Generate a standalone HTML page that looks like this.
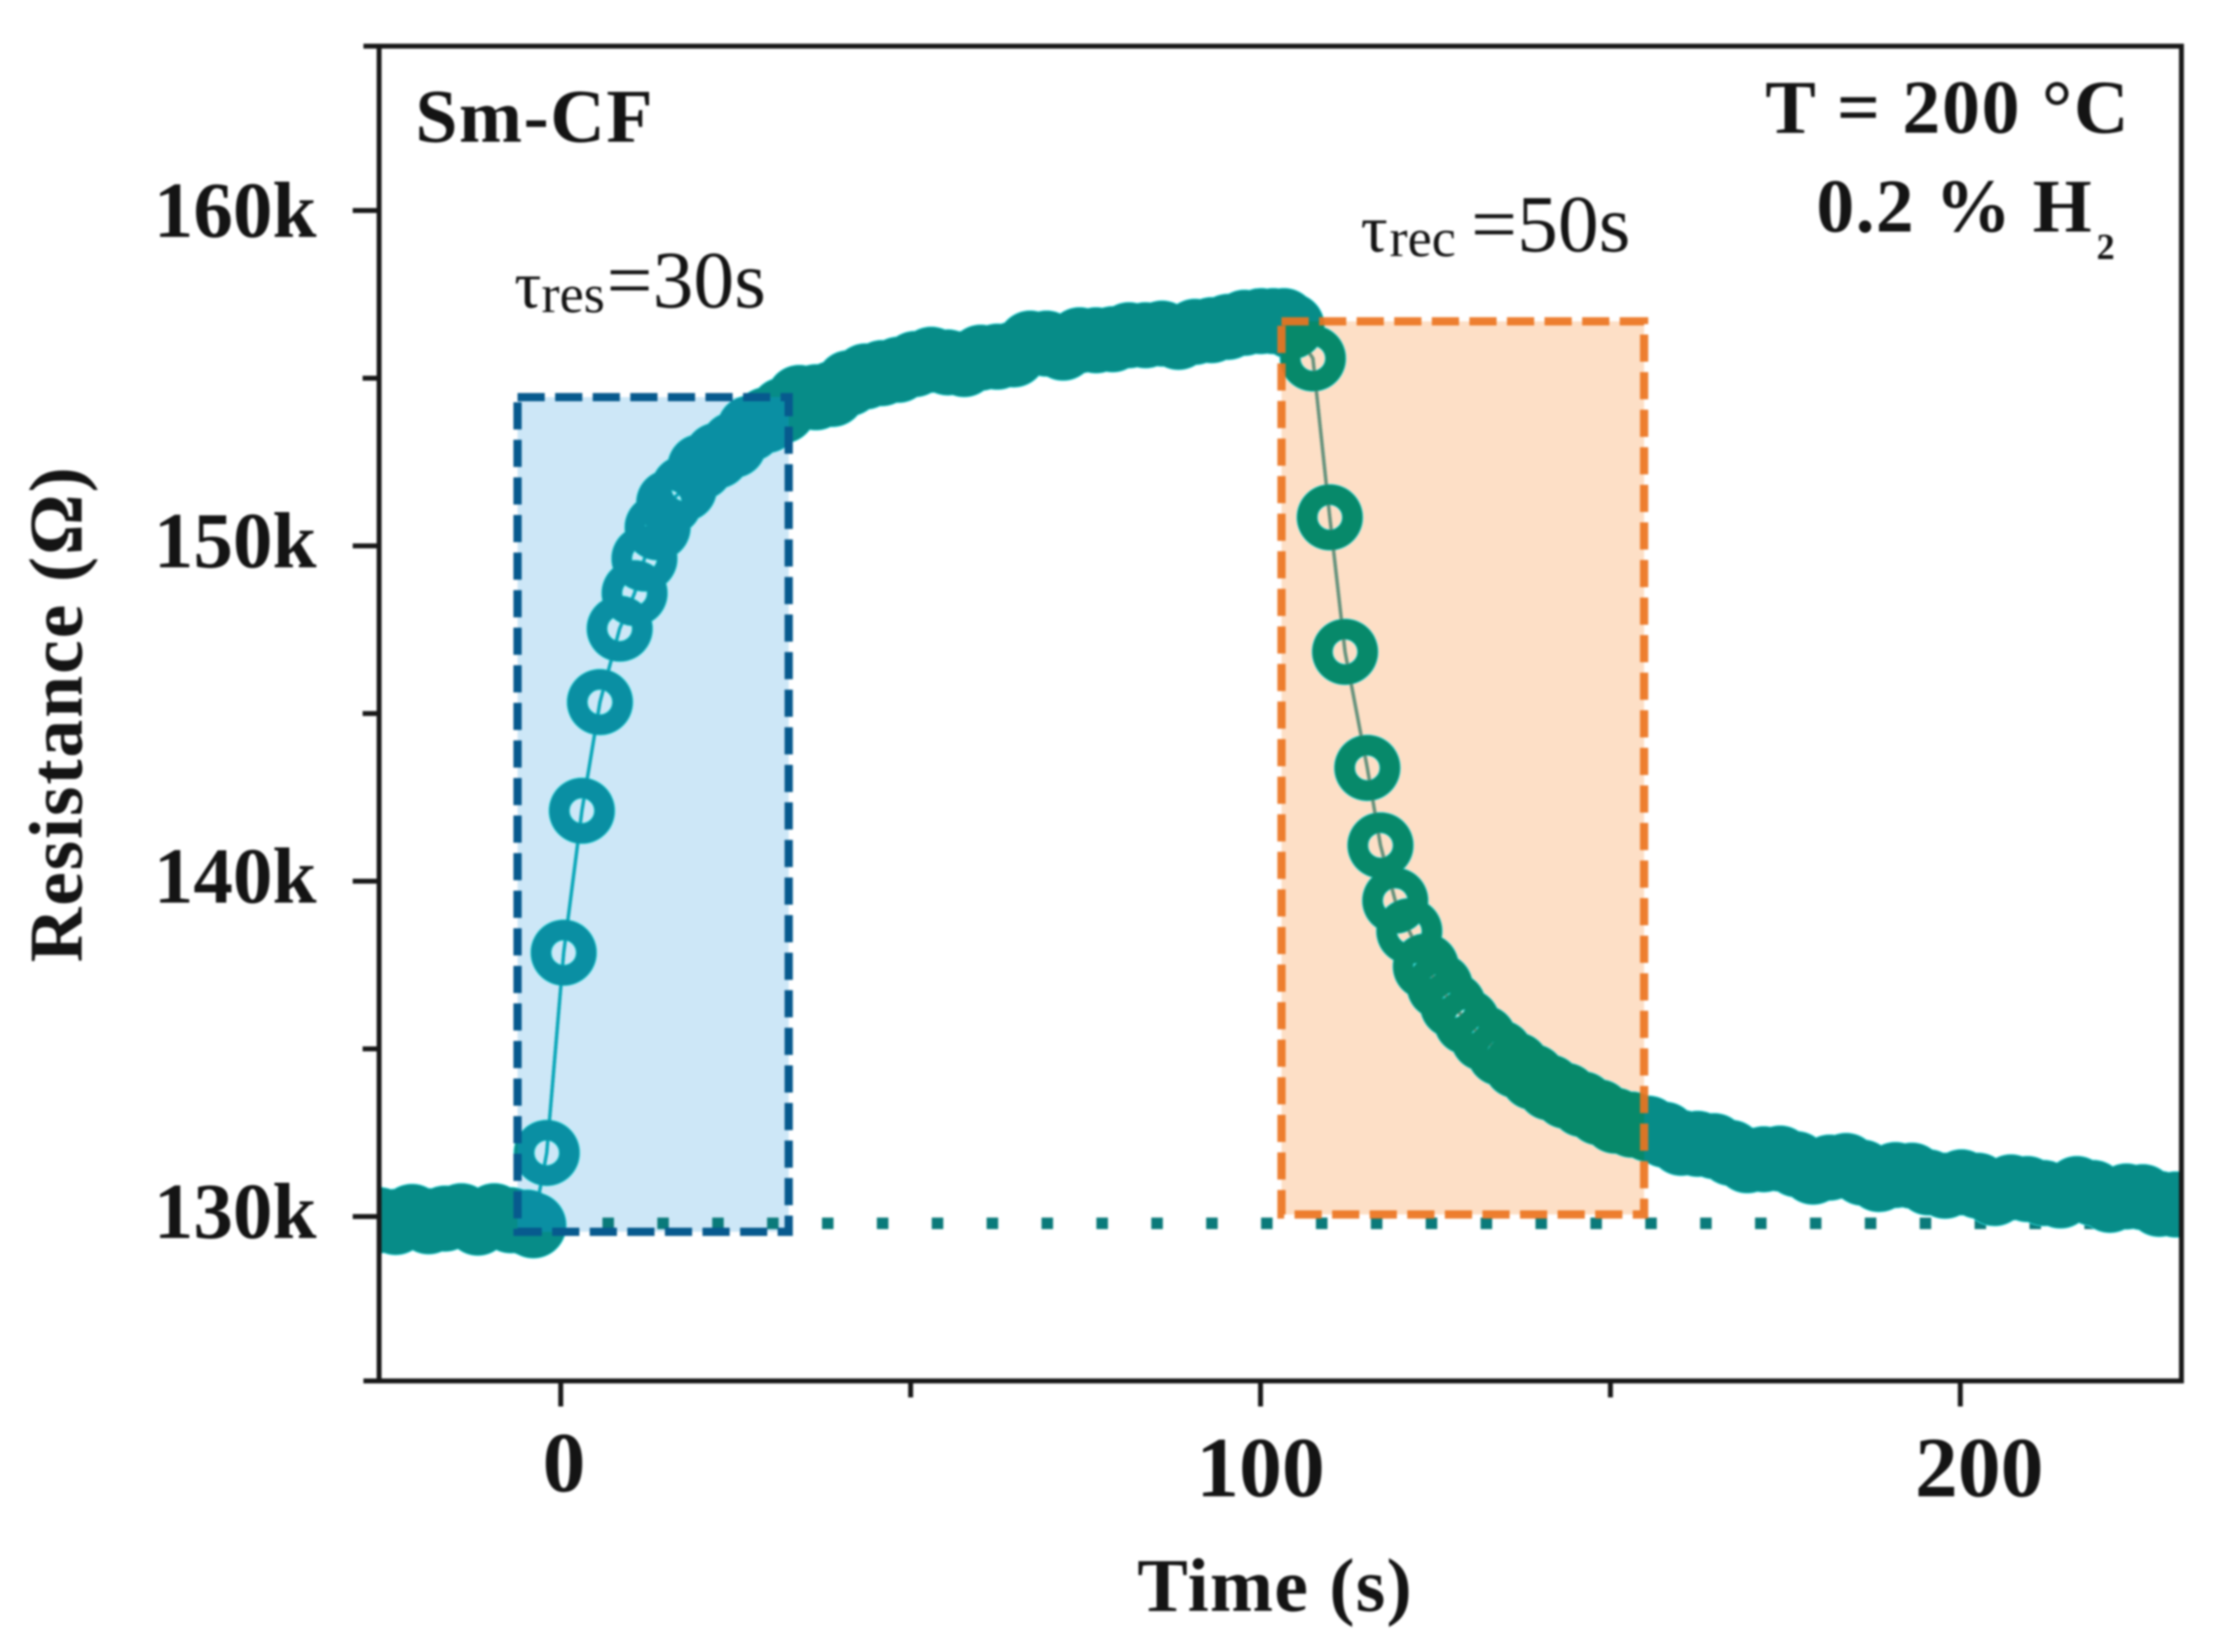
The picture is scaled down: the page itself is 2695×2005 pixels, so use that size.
<!DOCTYPE html>
<html lang="en">
<head>
<meta charset="utf-8">
<title>Sm-CF resistance vs time</title>
<style>
html,body{margin:0;padding:0;background:#fff;}
svg{display:block;filter:blur(1.2px);}
text{font-family:"Liberation Serif",serif;fill:#141414;}
.b{font-weight:bold;}
</style>
</head>
<body>
<svg id="chart" xmlns="http://www.w3.org/2000/svg" width="2695" height="2005" viewBox="0 0 2695 2005">
  <rect x="0" y="0" width="2695" height="2005" fill="#ffffff"/>
  <defs>
    <clipPath id="clip-plot"><rect x="460" y="56" width="2187" height="1620"/></clipPath>
    <clipPath id="clip-blue"><rect x="628" y="482" width="329" height="1013"/></clipPath>
    <clipPath id="clip-orange"><rect x="1555" y="390" width="440" height="1084"/></clipPath>
  </defs>
  <g id="fills">
    <rect x="628" y="482" width="329" height="1013" fill="#cde7f7"/>
    <rect x="1555" y="390" width="440" height="1084" fill="#fddfc6"/>
  </g>
  <g id="baseline-layer"></g>
  <g id="series"></g>
  <g id="borders" fill="none" stroke-width="10" stroke-dasharray="33 12.6">
    <rect x="628" y="482" width="329" height="1013" stroke="#075a8e"/>
    <rect x="1555" y="390" width="440" height="1084" stroke="#ec7420" stroke-opacity="0.92"/>
  </g>
  <g id="axes"></g>

  <text class="b" x="504" y="172" font-size="92" textLength="288" lengthAdjust="spacing">Sm-CF</text>
  <text class="b" x="2142" y="161" font-size="92" textLength="441" lengthAdjust="spacing">T = 200 °C</text>
  <text class="b" x="2204" y="281" font-size="92" textLength="334" lengthAdjust="spacing">0.2 % H</text>
  <text class="b" x="2544" y="314" font-size="44">2</text>
  <text><tspan x="624" y="373" font-size="82">τ</tspan><tspan x="657" y="379" font-size="66">res</tspan><tspan x="736" y="373" font-size="99">=30s</tspan></text>
  <text><tspan x="1651" y="305" font-size="82">τ</tspan><tspan x="1686" y="311" font-size="66">rec</tspan><tspan x="1785" y="305" font-size="99">=50s</tspan></text>
  <text class="b" x="1380" y="1955" font-size="92" textLength="333" lengthAdjust="spacing">Time (s)</text>
  <text class="b" transform="translate(99 1168) rotate(-90)" x="0" y="0" font-size="92" textLength="601" lengthAdjust="spacing">Resistance (Ω)</text>
</svg>

<script>
// Time in seconds
const timeValues = [
  -28.3,-25.95,-23.6,-21.25,-18.9,-16.55,-14.2,-11.85,-9.5,-7.15,-4.8,
  -3.92,-2.0,0.42,3.02,5.6,8.42,10.55,11.96,13.84,15.5,17.61,19.96,22.33,24.68,27.04,29.39,31.75,34.1,
  36.46,38.81,41.16,43.53,45.88,48.24,50.6,52.95,55.3,57.65,60.02,62.37,64.72,67.08,69.43,71.78,74.14,
  76.5,78.86,81.2,83.57,85.92,88.27,90.62,93.0,95.35,97.7,100.06,101.82,103.35,104.42,
  107.48,109.9,112.08,115.26,117.14,119.25,121.26,123.62,125.62,127.51,129.5,131.87,134.22,136.57,138.93,
  141.28,143.63,146.0,148.35,150.7,153.06,155.41,157.77,160.12,162.47,164.84,167.2,169.55,171.9,174.25,
  176.6,178.96,181.33,183.68,186.03,188.38,190.74,193.09,195.45,197.82,200.17,202.53,204.88,207.24,
  209.59,211.95,214.31,216.66,219.02,221.37,223.73,226.08,228.43,230.8,233.15
];
// Resistance in kilo-ohms
const resistanceValues = [
  129.91,129.89,129.84,129.99,129.86,129.94,130.01,129.82,130.01,129.89,129.82,
  129.74,131.90,137.87,142.10,145.34,147.53,148.59,149.62,150.55,151.29,151.71,152.35,152.69,153.01,153.50,153.75,154.04,154.41,
  154.43,154.53,154.85,155.05,155.15,155.25,155.42,155.55,155.47,155.42,155.61,155.64,155.71,156.03,156.03,155.91,156.13,
  156.13,156.16,156.28,156.28,156.33,156.23,156.38,156.43,156.53,156.65,156.70,156.70,156.70,156.55,
  155.59,150.85,146.84,143.38,141.07,139.42,138.51,137.46,136.87,136.30,135.81,135.32,134.88,134.51,134.16,
  133.85,133.60,133.35,133.11,132.86,132.74,132.62,132.44,132.20,132.17,132.10,131.90,131.68,131.71,131.73,
  131.56,131.34,131.46,131.51,131.31,131.12,131.24,131.22,131.02,130.92,131.02,130.92,130.70,130.87,
  130.82,130.70,130.63,130.82,130.70,130.50,130.60,130.58,130.38,130.36,130.33
];
const baselineResistance = [129.8];
const xMajorTicks = [0, 100, 200];
const xMinorTicks = [50, 150];
const xTickLabels = ["0", "100", "200"];
const yMajorTicks = [130, 140, 150, 160];
const yMinorTicks = [135, 145, 155];
const yTickLabels = ["130k", "140k", "150k", "160k"];

const xDomain = [-25.96, 231.6];
const yDomain = [125.1, 164.9];
const plot = {left: 460, right: 2647, top: 56, bottom: 1676};

function xScale(t) {
  return plot.left + (t - xDomain[0]) / (xDomain[1] - xDomain[0]) * (plot.right - plot.left);
}
function yScale(v) {
  return plot.bottom - (v - yDomain[0]) / (yDomain[1] - yDomain[0]) * (plot.bottom - plot.top);
}
const NS = "http://www.w3.org/2000/svg";
function make(parent, tag, attrs) {
  const el = document.createElementNS(NS, tag);
  for (const k in attrs) el.setAttribute(k, attrs[k]);
  parent.appendChild(el);
  return el;
}

// baseline dotted guide
const baseGroup = document.getElementById("baseline-layer");
const baseY = yScale(baselineResistance[0]);
const baseLine = make(baseGroup, "line", {x1: 731, x2: plot.right, y1: baseY, y2: baseY, stroke: "#0a7a7a", "stroke-width": 14, "stroke-dasharray": "14 52.6"});



// series
const seriesGroup = document.getElementById("series");
const seriesLayers = [
  {clip: "clip-plot", color: "#078c88", line: "#089aa0", halo: true, name: "base"},
  {clip: "clip-blue", color: "#0a8fa3", line: "#06a6b8", halo: false, name: "response"},
  {clip: "clip-orange", color: "#07896a", line: "#64907a", halo: false, name: "recovery"}
];
const ringRadius = 27.5;
const ringWidth = 24;
const pathPoints = timeValues.map(function (t, i) {
  return xScale(t).toFixed(1) + "," + yScale(resistanceValues[i]).toFixed(1);
}).join(" ");

seriesLayers.forEach(function (layer) {
  const g = make(seriesGroup, "g", {"clip-path": "url(#" + layer.clip + ")"});
  
  
  const link = make(g, "polyline", {points: pathPoints, fill: "none", stroke: layer.line, "stroke-width": 4});
  
  
  if (layer.halo) {
    timeValues.forEach(function (t, i) {
      const h = make(g, "circle", {cx: xScale(t), cy: yScale(resistanceValues[i]), r: ringRadius, fill: "none", stroke: "#35dfe2", "stroke-width": ringWidth + 2});
      
      
    });
  }
  timeValues.forEach(function (t, i) {
    const c = make(g, "circle", {cx: xScale(t), cy: yScale(resistanceValues[i]), r: ringRadius, fill: "none", stroke: layer.color, "stroke-width": ringWidth});
    
    
  });
});

// axes
const axes = document.getElementById("axes");
const axisColor = "#181818";
const frame = make(axes, "rect", {x: plot.left, y: plot.top, width: plot.right - plot.left, height: plot.bottom - plot.top, fill: "none", stroke: axisColor, "stroke-width": 6});



const cornerTop = make(axes, "line", {x1: plot.left - 19, x2: plot.left, y1: plot.top, y2: plot.top, stroke: axisColor, "stroke-width": 6});


const cornerBottom = make(axes, "line", {x1: plot.left - 19, x2: plot.left, y1: plot.bottom, y2: plot.bottom, stroke: axisColor, "stroke-width": 6});



xMajorTicks.forEach(function (v, i) {
  const t = make(axes, "line", {x1: xScale(v), x2: xScale(v), y1: plot.bottom, y2: plot.bottom + 31, stroke: axisColor, "stroke-width": 6});
  
  
  const shift = v === 200 ? 23 : (v === 0 ? 4 : 0);
  const baseline = v === 0 ? 1810 : 1816;
  const l = make(axes, "text", {x: xScale(v) + shift, y: baseline, "font-size": 104, "text-anchor": "middle", "class": "b"});
  l.textContent = xTickLabels[i];
  
  
});
xMinorTicks.forEach(function (v) {
  const t = make(axes, "line", {x1: xScale(v), x2: xScale(v), y1: plot.bottom, y2: plot.bottom + 20, stroke: axisColor, "stroke-width": 6});
  
  
});
yMajorTicks.forEach(function (v, i) {
  const t = make(axes, "line", {x1: plot.left - 32, x2: plot.left, y1: yScale(v), y2: yScale(v), stroke: axisColor, "stroke-width": 6});
  
  
  const shift = v === 160 ? 32 : 26;
  const l = make(axes, "text", {x: 384, y: yScale(v) + shift, "font-size": 96, "text-anchor": "end", "class": "b"});
  l.textContent = yTickLabels[i];
  
  
});
yMinorTicks.forEach(function (v) {
  const t = make(axes, "line", {x1: plot.left - 20, x2: plot.left, y1: yScale(v), y2: yScale(v), stroke: axisColor, "stroke-width": 6});
  
  
});
</script>
</body>
</html>
